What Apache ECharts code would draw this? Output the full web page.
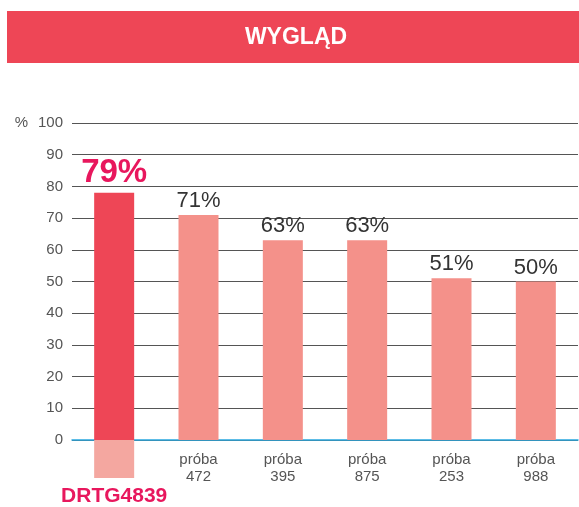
<!DOCTYPE html>
<html>
<head>
<meta charset="utf-8">
<script src="https://cdn.jsdelivr.net/npm/echarts@6/dist/echarts.min.js"></script>
<style>
	html, body { margin: 0; padding: 0; background: #fff; }
	#chart { width: 579px; height: 507px; }
</style>
</head>
<body>
<div id="chart"></div>
<script>
	// dane
	var categories = ['DRTG4839', 'próba\n472', 'próba\n395', 'próba\n875', 'próba\n253', 'próba\n988'];
	var values = [78, 71, 63, 63, 51, 50];
	var valueLabels = ['79%', '71%', '63%', '63%', '51%', '50%'];
	var belowValues = [-12, '-', '-', '-', '-', '-'];
	var yTicks = [0, 100, 10]; // min, max, interval

	var mainRed = '#EE4656';
	var salmon = '#F4918A';
	var pink = '#E8175D';

	var myChart = echarts.init(document.getElementById('chart'));

	var option = {
		animation: false,
		textStyle: { fontFamily: 'Arial, Liberation Sans, sans-serif' },
		graphic: [{
			type: 'rect',
			shape: { x: 7, y: 11, width: 572, height: 52 },
			style: { fill: mainRed }
		}, {
			type: 'text',
			x: 296,
			y: 38,
			style: {
				text: 'WYGLĄD',
				fill: '#fff',
				font: 'bold 23px Arial, Liberation Sans, sans-serif',
				textAlign: 'center',
				textVerticalAlign: 'middle'
			}
		}],
		grid: {
			left: 72,
			right: 1,
			top: 123,
			bottom: 67,
			outerBoundsMode: 'none'
		},
		xAxis: {
			type: 'category',
			data: categories,
			axisLine: {
				onZero: true,
				lineStyle: { color: '#29A8E0', width: 1.5 }
			},
			axisTick: { show: false },
			axisLabel: {
				interval: 0,
				margin: 11,
				fontSize: 15,
				lineHeight: 17,
				color: '#555',
				formatter: function(v, i) {
					if (i === 0) return '{s| }\n{d|' + v + '}';
					return v;
				},
				rich: {
					s: { fontSize: 10, lineHeight: 36 },
					d: {
						fontSize: 21,
						fontWeight: 'bold',
						color: pink,
						lineHeight: 19
					}
				}
			}
		},
		yAxis: {
			type: 'value',
			min: yTicks[0],
			max: yTicks[1],
			interval: yTicks[2],
			axisLine: { show: false },
			axisTick: { show: false },
			splitLine: { lineStyle: { color: '#555', width: 1 } },
			axisLabel: {
				margin: 9,
				fontSize: 15,
				color: '#555',
				formatter: function(v) {
					if (v === 100) return '{p|%}{v|100}';
					return v;
				},
				rich: {
					p: { fontSize: 15, color: '#555', padding: [0, 10, 0, 0] },
					v: { fontSize: 15, color: '#555' }
				}
			}
		},
		series: [{
			type: 'bar',
			stack: 'a',
			barWidth: 40,
			data: values.map(function(v, i) {
				var item = {
					value: v,
					itemStyle: { color: i === 0 ? mainRed : salmon }
				};
				if (i === 0) {
					item.label = {
						fontSize: 33,
						fontWeight: 'bold',
						color: pink
					};
				}
				return item;
			}),
			label: {
				show: true,
				position: 'top',
				distance: 3,
				fontSize: 22,
				color: '#333',
				formatter: function(p) {
					return valueLabels[p.dataIndex];
				}
			}
		}, {
			type: 'bar',
			stack: 'a',
			barWidth: 40,
			clip: false,
			data: belowValues,
			itemStyle: { color: '#F4A7A0' }
		}]
	};

	myChart.setOption(option);
</script>
</body>
</html>
